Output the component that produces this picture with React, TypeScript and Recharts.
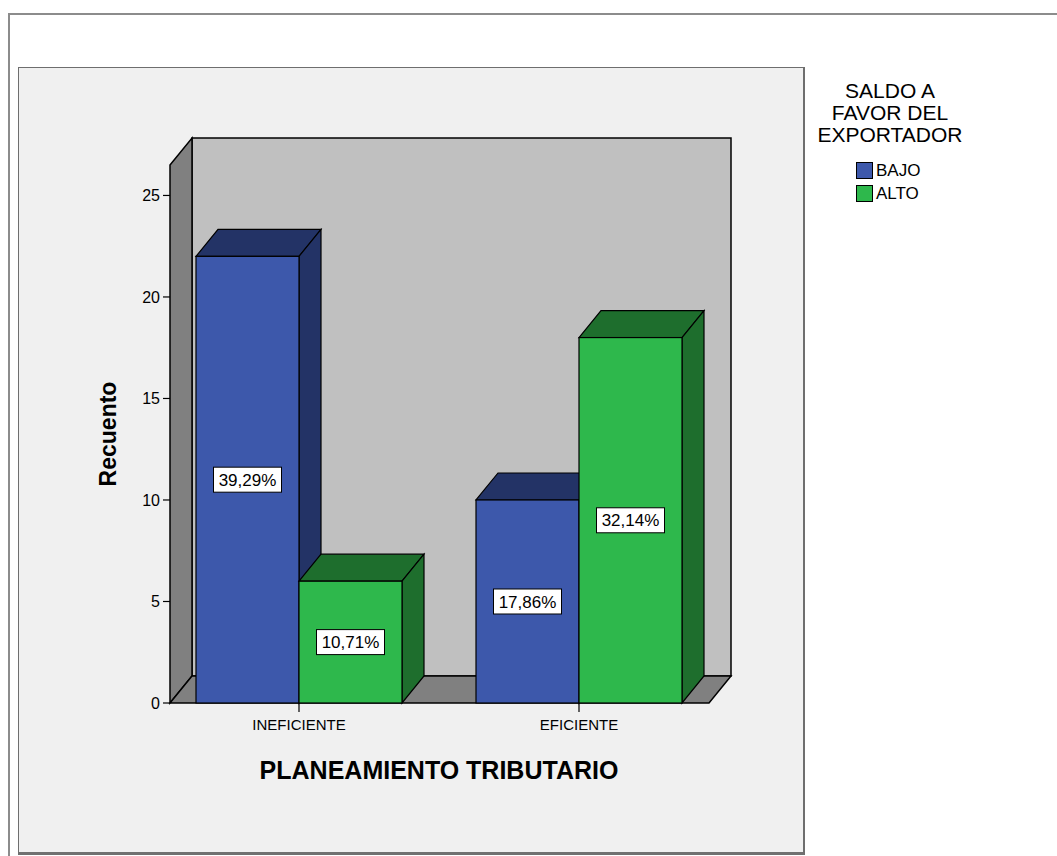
import { Bar, BarChart, Label, LabelList, Legend, ReferenceArea, XAxis, YAxis } from "recharts";

const categorias = ["INEFICIENTE", "EFICIENTE"];
const series = ["BAJO", "ALTO"];
const bajo = [22, 10];
const alto = [6, 18];
const ticksY = [0, 5, 10, 15, 20, 25];

const total = [...bajo, ...alto].reduce((a, b) => a + b, 0);

const datos = categorias.map((c, i) => ({
  planeamiento: c,
  bajo: bajo[i],
  alto: alto[i],
}));

const fuente = "'Liberation Sans', Arial, sans-serif";

// profundidad del efecto 3D
const DX = 22;
const DY = 27;

const pts = (p: number[][]) => p.map((q) => q.join(",")).join(" ");

// paredes y piso del cubo
const Paredes = (props: any) => {
  const { x, y, width, height } = props;
  const l = x + 11;
  const r = x + width - 10;
  const t = y;
  const b = y + height;
  return (
    <g>
      <polygon
        points={pts([[l + DX, t - DY], [r + DX, t - DY], [r + DX, b - DY], [l + DX, b - DY]])}
        fill="#c0c0c0"
        stroke="#000"
        strokeWidth={1.5}
      />
      <polygon
        points={pts([[l, t], [l + DX, t - DY], [l + DX, b - DY], [l, b]])}
        fill="#808080"
        stroke="#000"
        strokeWidth={1.5}
      />
      <polygon
        points={pts([[l, b], [l + DX, b - DY], [r + DX, b - DY], [r, b]])}
        fill="#808080"
        stroke="#000"
        strokeWidth={1.5}
      />
    </g>
  );
};

const Barra3D = (props: any) => {
  const { x, y, width, height, fill, oscuro } = props;
  if (!height) return null;
  const w = width;
  return (
    <g stroke="#000" strokeWidth={1.2}>
      <polygon points={pts([[x, y], [x + DX, y - DY], [x + w + DX, y - DY], [x + w, y]])} fill={oscuro} />
      <polygon
        points={pts([[x + w, y], [x + w + DX, y - DY], [x + w + DX, y + height - DY], [x + w, y + height]])}
        fill={oscuro}
      />
      <rect x={x} y={y} width={w} height={height} fill={fill} />
    </g>
  );
};

const Etiqueta = (props: any) => {
  const vb = props.viewBox || props;
  const { x, y, width, height } = vb;
  const texto = ((props.value / total) * 100).toFixed(2).replace(".", ",") + "%";
  const cx = x + width / 2;
  const cy = y + height / 2;
  const w = 68;
  const h = 25;
  return (
    <g>
      <rect x={cx - w / 2} y={cy - h / 2} width={w} height={h} fill="#fff" stroke="#000" strokeWidth={1} />
      <text x={cx} y={cy} dy="0.36em" textAnchor="middle" fontSize={17} fontFamily={fuente} fill="#000">
        {texto}
      </text>
    </g>
  );
};

const TickY = (props: any) => {
  const { x, y, payload } = props;
  return (
    <g>
      <line x1={x + 4} x2={x + 11} y1={y} y2={y} stroke="#000" strokeWidth={1.2} />
      <text x={x + 1} y={y} dy="0.36em" textAnchor="end" fontSize={16} fontFamily={fuente} fill="#000">
        {payload.value}
      </text>
    </g>
  );
};

const Leyenda = ({ payload }: any) => {
  const items = [...(payload || [])].sort((a: any, b: any) => series.indexOf(a.value) - series.indexOf(b.value));
  return (
    <div style={{ fontFamily: fuente, color: "#000" }}>
      <div style={{ textAlign: "center", fontSize: 21, lineHeight: "22px" }}>
        SALDO A<br />
        FAVOR DEL<br />
        EXPORTADOR
      </div>
      <div style={{ marginTop: 13, paddingLeft: 56 }}>
        {items.map((e: any) => (
          <div key={e.value} style={{ display: "flex", alignItems: "center", height: 23, fontSize: 17 }}>
            <span
              style={{
                display: "inline-block",
                width: 15,
                height: 15,
                background: e.color,
                border: "1px solid #000",
                marginRight: 3,
              }}
            />
            {e.value}
          </div>
        ))}
      </div>
    </div>
  );
};

export default function App() {
  return (
    <div style={{ position: "absolute", left: 0, top: 0, width: 1057, height: 856, background: "#fff", overflow: "hidden" }}>
      <div
        style={{
          position: "absolute",
          left: 8,
          top: 13,
          right: -10,
          bottom: -10,
          borderTop: "2px solid #8c8c8c",
          borderLeft: "2px solid #8c8c8c",
        }}
      />
      <div
        style={{
          position: "absolute",
          left: 18,
          top: 67,
          width: 784,
          height: 784,
          background: "#f0f0f0",
          border: "1px solid #6e6e6e",
          borderBottom: "3px solid #707070",
          borderRight: "2px solid #6e6e6e",
        }}
      />
      <div style={{ position: "absolute", left: 0, top: 0 }}>
        <BarChart
          width={1057}
          height={856}
          data={datos}
          margin={{ top: 165, right: 338, bottom: 63, left: 90 }}
          barCategoryGap={37}
          barGap={0}
        >
          <ReferenceArea y1={0} y2={26.5} ifOverflow="visible" shape={<Paredes />} />
          <XAxis
            dataKey="planeamiento"
            axisLine={false}
            tickLine={{ stroke: "#000", strokeWidth: 1.2 }}
            tickSize={9}
            tickMargin={7}
            height={90}
            interval={0}
            tick={{ fill: "#000", fontSize: 15, fontFamily: fuente }}
          >
            <Label
              value="PLANEAMIENTO TRIBUTARIO"
              position="insideBottom"
              offset={14}
              style={{ fontSize: 25, fontWeight: "bold", fontFamily: fuente, fill: "#000" }}
            />
          </XAxis>
          <YAxis
            domain={[0, 26.5]}
            ticks={ticksY}
            axisLine={false}
            tickLine={false}
            tickSize={0}
            tickMargin={0}
            width={69}
            interval={0}
            tick={<TickY />}
          >
            <Label
              value="Recuento"
              angle={-90}
              position="insideLeft"
              offset={18}
              style={{ textAnchor: "middle", fontSize: 23, fontWeight: "bold", fontFamily: fuente, fill: "#000" }}
            />
          </YAxis>
          <Legend
            layout="horizontal"
            align="center"
            verticalAlign="middle"
            wrapperStyle={{ left: 800, top: 80, width: 180 }}
            content={<Leyenda />}
          />
          <Bar
            dataKey="bajo"
            name={series[0]}
            fill="#3d58ab"
            isAnimationActive={false}
            shape={(p: any) => <Barra3D {...p} oscuro="#233366" />}
          >
            <LabelList dataKey="bajo" content={<Etiqueta />} />
          </Bar>
          <Bar
            dataKey="alto"
            name={series[1]}
            fill="#2eb84c"
            isAnimationActive={false}
            shape={(p: any) => <Barra3D {...p} oscuro="#1e6e2d" />}
          >
            <LabelList dataKey="alto" content={<Etiqueta />} />
          </Bar>
        </BarChart>
      </div>
    </div>
  );
}
